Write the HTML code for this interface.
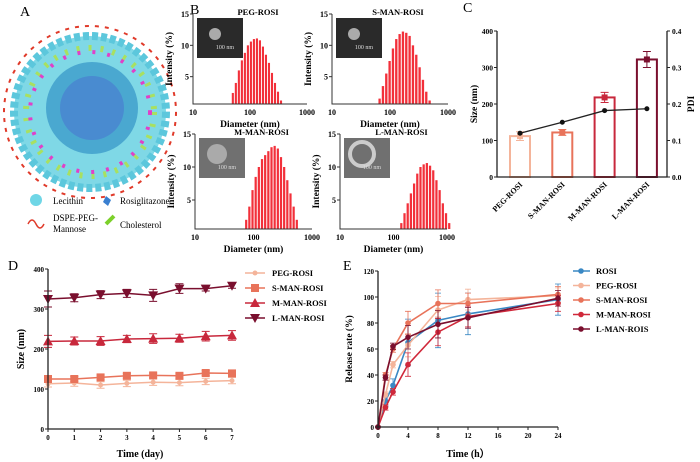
<!DOCTYPE html>
<html><head><meta charset="utf-8"><style>
body{margin:0;background:#fff}
svg{display:block;font-family:"Liberation Serif",serif}
.t{font-weight:bold}
</style></head><body>
<svg id="fig" width="700" height="462" viewBox="0 0 700 462">
<g>
<text x="20" y="16" font-size="14">A</text>
<circle cx="90" cy="112" r="86" fill="none" stroke="#e03a2a" stroke-width="2" stroke-dasharray="4 6"/>
<circle cx="90" cy="112" r="76" fill="#7fd8e6"/>
<circle cx="90" cy="112" r="76" fill="none" stroke="#5cc7dc" stroke-width="8" stroke-dasharray="6 3"/>
<circle cx="90" cy="112" r="64" fill="none" stroke="#a8e060" stroke-width="6" stroke-dasharray="3 9"/>
<circle cx="90" cy="112" r="60" fill="none" stroke="#e040c8" stroke-width="4" stroke-dasharray="3 12"/>
<circle cx="92" cy="108" r="46" fill="#4aa8d0"/>
<circle cx="92" cy="108" r="32" fill="#4a78d0" opacity="0.6"/>
<circle cx="36" cy="200" r="6" fill="#6fd6e6"/>
<text x="53" y="204" font-size="9">Lecithin</text>
<path d="M106 196 l5 4 -3 6 -5 -4z" fill="#3a7fd0"/>
<text x="120" y="204" font-size="9">Rosiglitazone</text>
<path d="M28 224 q4 -8 8 0 t8 0" fill="none" stroke="#e03a2a" stroke-width="1.5"/>
<text x="53" y="221" font-size="9">DSPE-PEG-</text>
<text x="53" y="232" font-size="9">Mannose</text>
<path d="M106 224 l8 -8" stroke="#7cd02a" stroke-width="4"/>
<text x="120" y="228" font-size="9">Cholesterol</text>
</g>
<text x="190" y="14" font-size="14">B</text>
<text x="463" y="12" font-size="14">C</text>
<text x="8" y="270" font-size="14">D</text>
<text x="343" y="270" font-size="14">E</text>
<g id="gb"></g>
<g id="gc"></g>
<g id="gd"></g>
<g id="ge"></g>
</svg>
<script>
// Panel B data
const bTitles=["PEG-ROSI","S-MAN-ROSI","M-MAN-ROSI","L-MAN-ROSI"];
const bStart=[50,58,75,140];
const bEnd=[350,550,550,1100];
const bPeg=[2.4,4,6,7.6,8.8,10,10.6,11,11.1,10.8,9.8,8.5,7.2,5.6,4,2.6,1.2];
const bS=[0.3,1.5,3.5,5.5,7.5,9.5,11,11.8,12.2,12,11.5,10,8.5,6.5,4.5,2.6,1.2,0.5];
const bM=[2,4,6.5,8.5,10,11.2,11.8,12.4,13,13.2,12.8,11.5,10,8,6,4,2];
const bL=[1.5,3,4.5,6,7.5,9,10,10.4,10.6,10.2,9.5,8,6.5,4.5,3,1.5];
const bVals=[bPeg,bS,bM,bL];
const bTicks=["10","100","1000"];
// Panel C data
const cCats=["PEG-ROSI","S-MAN-ROSI","M-MAN-ROSI","L-MAN-ROSI"];
const cSize=[112,122,218,322];
const cSizeErr=[12,8,14,22];
const cPdi=[0.12,0.15,0.182,0.187];
const cSizeTicks=[0,100,200,300,400];
const cPdiTicks=["0.0","0.1","0.2","0.3","0.4"];
// Panel D data
const dDays=[0,1,2,3,4,5,6,7];
const dPeg=[113,115,110,114,117,116,119,121];
const dS=[125,125,129,133,134,133,140,139];
const dM=[219,220,220,225,226,227,232,234];
const dL=[325,328,336,339,334,351,351,358];
const dErr=[[8,8,8,8,8,8,8,8],[6,6,6,6,6,6,6,6],[15,10,11,9,12,10,12,12],[20,10,10,10,15,12,6,6]];
const dNames=["PEG-ROSI","S-MAN-ROSI","M-MAN-ROSI","L-MAN-ROSI"];
const dYTicks=[0,100,200,300,400];
// Panel E data
const eTimes=[0,1,2,4,8,12,24];
const eRosi=[0,20,32,65,82,87,98];
const ePeg=[0,25,48,63,90,98,101];
const eS=[0,40,60,80,95,95,102];
const eM=[0,15,27,48,73,85,95];
const eL=[0,38,62,69,79,84,99];
const eErr=[0,4,5,18,21,16,12];
const eNames=["ROSI","PEG-ROSI","S-MAN-ROSI","M-MAN-ROSI","L-MAN-ROIS"];
const eXTicks=[0,4,8,12,16,20,24];
const eYTicks=[0,20,40,60,80,100,120];

const NS="http://www.w3.org/2000/svg";
function mk(p,tag,at,txt){const e=document.createElementNS(NS,tag);for(const k in at)e.setAttribute(k,at[k]);if(txt!==undefined)e.textContent=txt;p.appendChild(e);return e;}
const cols4=["#f4b49a","#e8735a","#c8283c","#7a0f2e"];

// Panel B
const gb=document.getElementById('gb');
const bBox=[[193,307,14,104],[332,448,14,104],[195,312,134,229],[340,447,134,229]];
bBox.forEach((bx,i)=>{
 const [x0,x1,y0,y1]=bx;
 const g=mk(gb,'g',{});
 
 
 const xs=v=>x0+(Math.log10(v)-1)/2*(x1-x0);
 const ys=v=>y1+4-(v/15)*(y1+4-y0);
 const vals=bVals[i],n=vals.length;
 const ls=Math.log10(bStart[i]),le=Math.log10(bEnd[i]);
 const w=(xs(bEnd[i])-xs(bStart[i]))/(n-1)*0.7;
 vals.forEach((v,k)=>{const d=Math.pow(10,ls+(le-ls)*k/(n-1));const r=mk(g,'rect',{x:xs(d)-w/2,y:ys(v),width:w,height:y1-ys(v),fill:'#f2303a'});
  });
 const ax=mk(g,'path',{d:`M${x0} ${y0}V${y1}H${x1}`,fill:'none',stroke:'#333','stroke-width':1});
 
 [15,10,5].forEach(t=>{mk(g,'line',{x1:x0-3,x2:x0,y1:ys(t),y2:ys(t),stroke:'#333'});const tl=mk(g,'text',{x:x0-4,y:ys(t)+3,'font-size':8,'text-anchor':'end',class:'t'},t);});
 bTicks.forEach((t,k)=>{const tl=mk(g,'text',{x:x0+k*(x1-x0)/2,y:y1+11,'font-size':8,'text-anchor':'middle',class:'t'},t);});
 const tt=mk(g,'text',{x:(x0+x1)/2+8,y:y0+1,'font-size':8.5,'text-anchor':'middle',class:'t'},bTitles[i]);
 const xt=mk(g,'text',{x:(x0+x1)/2,y:y1+23,'font-size':9.5,'text-anchor':'middle',class:'t'},'Diameter (nm)');
 const yt=mk(g,'text',{x:0,y:0,'font-size':9.5,'text-anchor':'middle',class:'t',transform:`translate(${x0-21},${(y0+y1)/2}) rotate(-90)`},'Intensity (%)');
 const im=mk(g,'rect',{x:x0+4,y:y0+4,width:46,height:40,fill:i==2||i==3?'#707070':'#2a2a2a'});
 const pt=mk(g,'circle',{cx:x0+22,cy:y0+20,r:i==3?12:(i==2?10:6),fill:i==3?'none':'#aaa',stroke:i==3?'#ccc':'none','stroke-width':4});
 const sb=mk(g,'text',{x:x0+32,y:y0+35,'font-size':6,fill:'#ddd','text-anchor':'middle'},'100 nm');
});

// Panel C
const gc=document.getElementById('gc');
{const x0=497,x1=667,y0=31,y1=177;
 const ys=v=>y1-v/400*(y1-y0),yp=v=>y1-v/0.4*(y1-y0);
 const xc=i=>520+i*42.3;
 cSize.forEach((v,i)=>{const r=mk(gc,'rect',{x:xc(i)-10,y:ys(v),width:20,height:y1-ys(v),fill:'#fff',stroke:cols4[i],'stroke-width':2});
  mk(gc,'path',{d:`M${xc(i)} ${ys(v+cSizeErr[i])}V${ys(v-cSizeErr[i])}M${xc(i)-4} ${ys(v+cSizeErr[i])}h8M${xc(i)-4} ${ys(v-cSizeErr[i])}h8`,stroke:cols4[i],fill:'none'});
  mk(gc,'rect',{x:xc(i)-3,y:ys(v)-3,width:6,height:6,fill:cols4[i]});
  const tl=mk(gc,'text',{x:0,y:0,'font-size':8,'text-anchor':'end',class:'t',transform:`translate(${xc(i)+3},${y1+8}) rotate(-45)`},cCats[i]);});
 let d='';cPdi.forEach((v,i)=>{d+=(i?'L':'M')+xc(i)+' '+yp(v);});
 const pl=mk(gc,'path',{d,fill:'none',stroke:'#222','stroke-width':1.3});
 cPdi.forEach((v,i)=>{const c=mk(gc,'circle',{cx:xc(i),cy:yp(v),r:2.5,fill:'#111'});});
 mk(gc,'path',{d:`M${x0} ${y0}V${y1}H${x1}V${y0}`,fill:'none',stroke:'#222','stroke-width':1.3});
 cSizeTicks.forEach(t=>{mk(gc,'line',{x1:x0-3,x2:x0,y1:ys(t),y2:ys(t),stroke:'#222'});mk(gc,'text',{x:x0-4,y:ys(t)+3,'font-size':7.5,'text-anchor':'end',class:'t'},t);});
 cPdiTicks.forEach((t,k)=>{const y=y1-k*(y1-y0)/4;mk(gc,'line',{x1:x1,x2:x1+3,y1:y,y2:y,stroke:'#222'});mk(gc,'text',{x:x1+5,y:y+3,'font-size':7.5,class:'t'},t);});
 const a=mk(gc,'text',{'font-size':9.5,'text-anchor':'middle',class:'t',transform:`translate(477,104) rotate(-90)`},'Size (nm)');
 const b=mk(gc,'text',{'font-size':9.5,'text-anchor':'middle',class:'t',transform:`translate(694,104) rotate(-90)`},'PDI');
}

function marker(g,type,x,y,c,r){let e;
 if(type==0)e=mk(g,'circle',{cx:x,cy:y,r:r||2.5,fill:c});
 else if(type==1)e=mk(g,'rect',{x:x-4,y:y-4,width:8,height:8,fill:c});
 else if(type==2)e=mk(g,'path',{d:`M${x} ${y-5}L${x+5} ${y+4}H${x-5}Z`,fill:c});
 else e=mk(g,'path',{d:`M${x} ${y+5}L${x+5} ${y-4}H${x-5}Z`,fill:c});
 }

// Panel D
const gd=document.getElementById('gd');
{const x0=48,x1=232,y0=269,y1=429;
 const xs=v=>x0+v/7*(x1-x0),ys=v=>y1-v/400*(y1-y0);
 [dPeg,dS,dM,dL].forEach((s,i)=>{let d='';s.forEach((v,k)=>{d+=(k?'L':'M')+xs(dDays[k])+' '+ys(v);});
  const l=mk(gd,'path',{d,fill:'none',stroke:cols4[i],'stroke-width':1.5});
  s.forEach((v,k)=>{const x=xs(dDays[k]),e=dErr[i][k];mk(gd,'path',{d:`M${x} ${ys(v+e)}V${ys(v-e)}M${x-4} ${ys(v+e)}h8M${x-4} ${ys(v-e)}h8`,stroke:cols4[i],fill:'none'});marker(gd,i,x,ys(v),cols4[i]);});
  const ly=273+i*15;mk(gd,'line',{x1:245,x2:265,y1:ly,y2:ly,stroke:cols4[i],'stroke-width':1.5});marker(gd,i,255,ly,cols4[i]);
  const t=mk(gd,'text',{x:272,y:ly+3,'font-size':8.5,class:'t'},dNames[i]);});
 mk(gd,'path',{d:`M${x0} ${y0}V${y1}H${x1}`,fill:'none',stroke:'#222','stroke-width':1.3});
 dYTicks.forEach(t=>{mk(gd,'line',{x1:x0-3,x2:x0,y1:ys(t),y2:ys(t),stroke:'#222'});mk(gd,'text',{x:x0-4,y:ys(t)+3,'font-size':7,'text-anchor':'end',class:'t'},t);});
 dDays.forEach(t=>{mk(gd,'line',{x1:xs(t),x2:xs(t),y1:y1,y2:y1+3,stroke:'#222'});mk(gd,'text',{x:xs(t),y:y1+11,'font-size':7,'text-anchor':'middle',class:'t'},t);});
 const a=mk(gd,'text',{x:140,y:457,'font-size':10,'text-anchor':'middle',class:'t'},'Time (day)');
 const b=mk(gd,'text',{'font-size':10,'text-anchor':'middle',class:'t',transform:'translate(24,349) rotate(-90)'},'Size (nm)');
}

// Panel E
const ge=document.getElementById('ge');
{const x0=378,x1=558,y0=271,y1=427;
 const xs=v=>x0+v/24*(x1-x0),ys=v=>y1-v/120*(y1-y0);
 const ec=["#3a88c4","#f4b49a","#e8735a","#d0283a","#7a0f2e"];
 [eRosi,ePeg,eS,eM,eL].forEach((s,i)=>{let d='';s.forEach((v,k)=>{d+=(k?'L':'M')+xs(eTimes[k])+' '+ys(v);});
  s.forEach((v,k)=>{const x=xs(eTimes[k]),e=eErr[k]*(i==0?1:0.5);mk(ge,'path',{d:`M${x} ${ys(v+e)}V${ys(v-e)}M${x-3} ${ys(v+e)}h6M${x-3} ${ys(v-e)}h6`,stroke:ec[i],fill:'none','stroke-width':0.8});});
  const l=mk(ge,'path',{d,fill:'none',stroke:ec[i],'stroke-width':1.6});
  s.forEach((v,k)=>marker(ge,0,xs(eTimes[k]),ys(v),ec[i],2.8));
  const ly=271+i*14.5;mk(ge,'line',{x1:573,x2:590,y1:ly,y2:ly,stroke:ec[i],'stroke-width':1.6});marker(ge,0,581,ly,ec[i],2.8);
  const t=mk(ge,'text',{x:596,y:ly+3,'font-size':8.5,class:'t'},eNames[i]);});
 mk(ge,'path',{d:`M${x0} ${y0}V${y1}H${x1}`,fill:'none',stroke:'#222','stroke-width':1.3});
 eYTicks.forEach(t=>{mk(ge,'line',{x1:x0-3,x2:x0,y1:ys(t),y2:ys(t),stroke:'#222'});mk(ge,'text',{x:x0-4,y:ys(t)+3,'font-size':7,'text-anchor':'end',class:'t'},t);});
 eXTicks.forEach(t=>{mk(ge,'line',{x1:xs(t),x2:xs(t),y1:y1,y2:y1+3,stroke:'#222'});mk(ge,'text',{x:xs(t),y:y1+11,'font-size':7,'text-anchor':'middle',class:'t'},t);});
 const a=mk(ge,'text',{x:468,y:457,'font-size':10,'text-anchor':'middle',class:'t'},'Time (h\uFF09');
 const b=mk(ge,'text',{'font-size':9.5,'text-anchor':'middle',class:'t',transform:'translate(352,349) rotate(-90)'},'Release rate (%)');
}
</script>
</body></html>
